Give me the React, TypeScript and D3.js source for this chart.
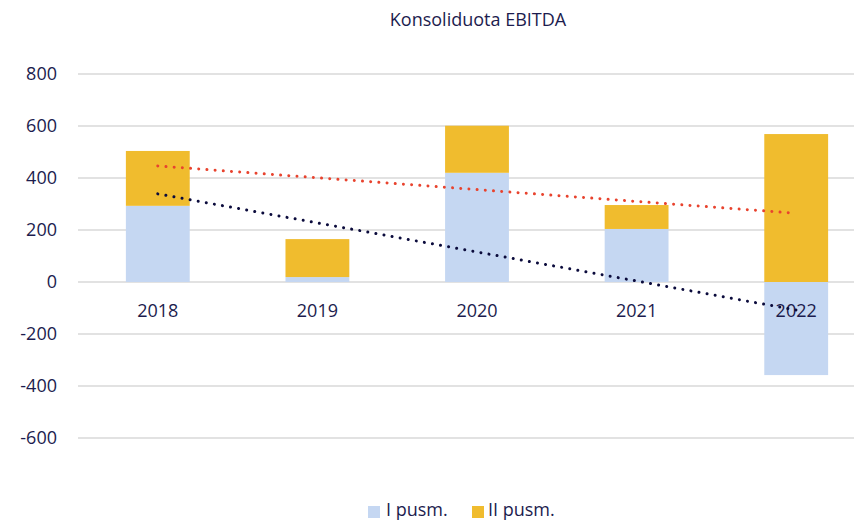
import React from "react";
import * as d3 from "d3";

const categories = ["2018", "2019", "2020", "2021", "2022"];
const firstHalf = [293, 19, 420, 204, -358];
const secondHalf = [211, 146, 181, 92, 569];
const yTicks = [-600, -400, -200, 0, 200, 400, 600, 800];
const seriesNames = ["I pusm.", "II pusm."];
const title = "Konsoliduota EBITDA";

const W = 854;
const H = 521;
const BLUE = "#c5d7f2";
const GOLD = "#f0bc2e";
const RED = "#e8432e";
const NAVY = "#0b0b3c";
const TEXT = "#1c1c4e";
const FONT = "'Open Sans', sans-serif";

function trend(vals: number[]) {
  const xs = vals.map((_, i) => i + 1);
  const mx = d3.mean(xs)!;
  const my = d3.mean(vals)!;
  let num = 0, den = 0;
  xs.forEach((x, i) => { num += (x - mx) * (vals[i] - my); den += (x - mx) ** 2; });
  const slope = num / den;
  return xs.map((x) => my + slope * (x - mx));
}

export default function App() {
  const x = d3.scaleBand<string>().domain(categories).range([78, 876]).paddingInner(0.6).paddingOuter(0.3);
  const y = d3.scaleLinear().domain([-600, 800]).range([438, 74]);
  const totals = categories.map((_, i) => firstHalf[i] + secondHalf[i]);
  const redTrend = trend(totals);
  const navyTrend = trend(firstHalf);
  const cx = (c: string) => x(c)! + x.bandwidth() / 2;
  const line = d3.line<number>().x((_, i) => cx(categories[i])).y((v) => y(v));

  const stacks = categories.map((c, i) => {
    let pos = 0, neg = 0;
    return [firstHalf[i], secondHalf[i]].map((v) => {
      let y0, y1;
      if (v >= 0) { y0 = pos; y1 = pos + v; pos = y1; } else { y0 = neg; y1 = neg + v; neg = y1; }
      return { c, y0, y1 };
    });
  });

  return (
    <svg width={W} height={H} style={{ position: "absolute", left: 0, top: 0, background: "#fff" }} fontFamily={FONT}>
      <text x={478} y={26} textAnchor="middle" fontSize={18} fill={TEXT}>{title}</text>
      {yTicks.map((t) => (
        <g key={t}>
          <line x1={78} x2={854} y1={y(t)} y2={y(t)} stroke="#d9d9d9" strokeWidth={1.6} />
          <text x={57} y={y(t)} dy="0.36em" textAnchor="end" fontSize={18} fill={TEXT}>{t}</text>
        </g>
      ))}
      {stacks.map((s, i) =>
        s.map((seg, j) => (
          <rect key={`${i}-${j}`} x={x(seg.c)} width={x.bandwidth()}
            y={y(Math.max(seg.y0, seg.y1))} height={Math.abs(y(seg.y0) - y(seg.y1))}
            fill={j === 0 ? BLUE : GOLD} />
        ))
      )}
      {categories.map((c) => (
        <text key={c} x={cx(c)} y={317} textAnchor="middle" fontSize={18} fill={TEXT}>{c}</text>
      ))}
      <path d={line(redTrend)!} fill="none" stroke={RED} strokeWidth={3} strokeDasharray="0.01 8.2" strokeLinecap="round" />
      <path d={line(navyTrend)!} fill="none" stroke={NAVY} strokeWidth={3} strokeDasharray="0.01 8.2" strokeLinecap="round" />
      <g>
        <rect x={368} y={506} width={12} height={12} fill={BLUE} />
        <text x={386} y={516} fontSize={18} fill={TEXT}>{seriesNames[0]}</text>
        <rect x={472} y={506} width={12} height={12} fill={GOLD} />
        <text x={488} y={516} fontSize={18} fill={TEXT}>{seriesNames[1]}</text>
      </g>
    </svg>
  );
}
